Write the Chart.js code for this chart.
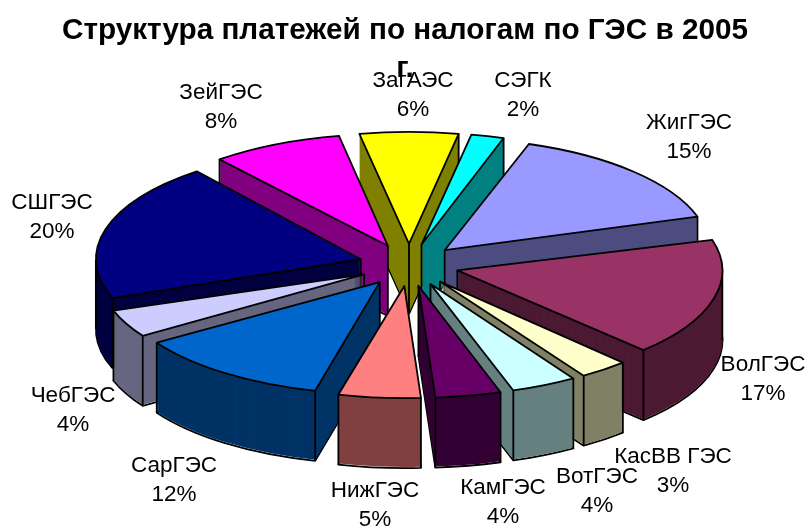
<!DOCTYPE html>
<html><head><meta charset="utf-8">
<script src="https://cdn.jsdelivr.net/npm/chart.js@4"></script>
<style>html,body{margin:0;padding:0;background:#fff}#w{width:810px;height:530px}</style>
</head><body><div id="w"><canvas id="c" width="810" height="530"></canvas></div>
<script>
const categories = ['ЗагАЭС','СЭГК','ЖигГЭС','ВолГЭС','КасВВ ГЭС','ВотГЭС','КамГЭС','НижГЭС','СарГЭС','ЧебГЭС','СШГЭС','ЗейГЭС'];
const shares = [6,2,15,17,3,4,4,5,12,4,20,8];
const topColors = ['#FFFF00','#00FFFF','#9999FF','#993366','#FFFFCC','#CCFFFF','#660066','#FF8080','#0066CC','#CCCCFF','#000080','#FF00FF'];
const wallColors = ['#808000','#008080','#4D4D80','#4D1A33','#808066','#668080','#330033','#804040','#003366','#666680','#000040','#800080'];
const titleLines = ['Структура платежей по налогам по ГЭС в 2005','г.'];
const labelCentres = [[413,81],[523,81],[689,123],[763,365],[673,457],[597,477],[503,488],[375,491],[174,466],[73,396],[52,203],[221,93]];

const view = {cx:409, cy:265, rx:265, ry:112, explode:50, depth:70, perspective:1.8*Math.PI/180};

const pie3d = {
  id:'pie3d',
  beforeDatasetsDraw(chart){
    const ctx = chart.ctx, arcs = chart.getDatasetMeta(0).data;
    const k = view.ry/view.rx;
    // the tilted view pushes the near slices slightly round the pie
    const midOf = a=>(a.startAngle+a.endAngle)/2;
    const warp = a=>view.perspective*(1+Math.sin(midOf(a)));
    const order = arcs.map((a,i)=>i).sort((p,q)=>Math.sin(midOf(arcs[p]))-Math.sin(midOf(arcs[q])));
    const baseOpts = {offset:0,spacing:0,borderWidth:0,borderColor:'#000',borderAlign:'center',borderRadius:0,borderJoinStyle:'round',circular:true};
    const paint = (a,col,dy)=>{
      const s = view.rx/a.outerRadius, w=warp(a), mid=midOf(a)+w;
      ctx.save();
      ctx.translate(view.cx, view.cy+dy);
      ctx.scale(s, s*k);
      ctx.translate(Math.cos(mid)*view.explode/s, Math.sin(mid)*view.explode/s);
      ctx.rotate(w);
      ctx.translate(-a.x,-a.y);
      a.options = Object.assign({},baseOpts,{backgroundColor:col});
      a.draw(ctx);
      ctx.restore();
    };
    const apex = a=>{
      const mid=midOf(a)+warp(a);
      return [view.cx+Math.cos(mid)*view.explode, view.cy+Math.sin(mid)*view.explode*k];
    };
    const wedge = (a,dy)=>{
      const [x,y]=apex(a), w=warp(a);
      ctx.beginPath();
      ctx.moveTo(x,y+dy);
      ctx.ellipse(x,y+dy,view.rx,view.ry,0,a.startAngle+w,a.endAngle+w);
      ctx.closePath();
      ctx.stroke();
    };
    ctx.lineWidth=1.8; ctx.strokeStyle='#000'; ctx.lineJoin='round';
    order.forEach(i=>{
      const a=arcs[i], [x,y]=apex(a), w=warp(a), rightSide=Math.cos(midOf(a))>0;
      const s0=a.startAngle+w, s1=a.endAngle+w;
      wedge(a,view.depth);
      for(let d=view.depth-1;d>=1;d--) paint(a,wallColors[i],d);
      const stops=[];
      if(!rightSide||Math.sin(s0)>0) stops.push(s0);
      if(rightSide||Math.sin(s1)>0) stops.push(s1);
      [Math.PI,3*Math.PI,0,2*Math.PI].forEach(t=>{ if(t>s0&&t<s1) stops.push(t); });
      ctx.beginPath();
      ctx.moveTo(x,y); ctx.lineTo(x,y+view.depth);
      stops.forEach(t=>{
        const px=x+Math.cos(t)*view.rx, py=y+Math.sin(t)*view.ry;
        ctx.moveTo(px,py); ctx.lineTo(px,py+view.depth);
      });
      ctx.stroke();
      paint(a,topColors[i],0);
      wedge(a,0);
    });
    return false;
  },
  afterDraw(chart){
    const ctx=chart.ctx;
    ctx.save();
    ctx.fillStyle='#000';
    ctx.font='22.5px "Liberation Sans", Arial, sans-serif';
    ctx.textAlign='center';
    ctx.textBaseline='middle';
    categories.forEach((n,i)=>{
      const [x,y]=labelCentres[i];
      ctx.fillText(n,x,y);
      ctx.fillText(shares[i]+'%',x,y+29);
    });
    ctx.restore();
  }
};

new Chart(document.getElementById('c'),{
  type:'pie',
  data:{labels:categories,datasets:[{data:shares,backgroundColor:topColors,borderWidth:0}]},
  options:{
    responsive:false,animation:false,
    rotation:-10.8,
    plugins:{
      legend:{display:false},tooltip:{enabled:false},
      title:{display:true,text:titleLines,color:'#000',
        font:{family:'"Liberation Sans", Arial, sans-serif',size:29.7,weight:'bold',lineHeight:1.27},
        padding:{top:12,bottom:0}}
    }
  },
  plugins:[pie3d]
});
</script></body></html>
